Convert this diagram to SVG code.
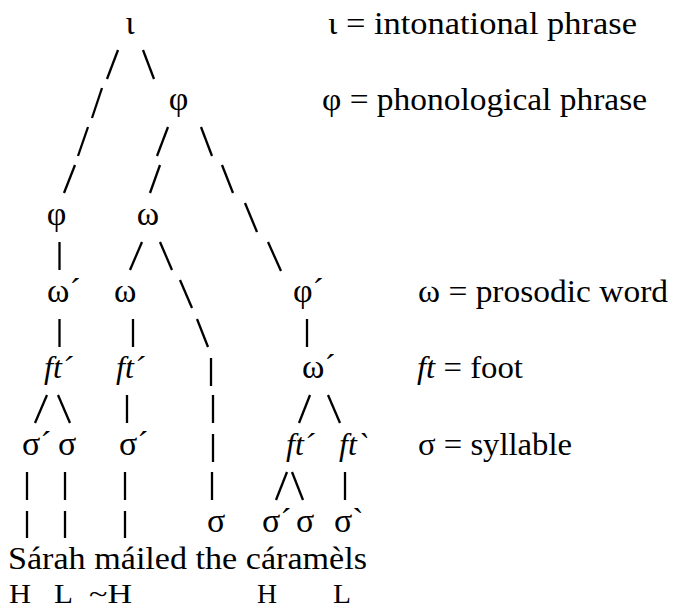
<svg xmlns="http://www.w3.org/2000/svg" width="673" height="609" viewBox="0 0 673 609">
<style>
text{font-family:"Liberation Serif","Times New Roman",serif;font-size:32px;fill:#000}
.g{font-size:34px}
.it{font-style:italic}
.t{font-size:28px}
.c line{stroke:#000;stroke-width:2.3;stroke-linecap:butt}
</style>
<rect width="673" height="609" fill="#fff"/>
<g class="c" id="connectors">
<line x1="118" y1="50" x2="107" y2="79"/><line x1="143" y1="50" x2="154" y2="79"/>
<line x1="102" y1="88" x2="92" y2="118"/>
<line x1="88" y1="127" x2="78" y2="156"/><line x1="168" y1="127" x2="157" y2="156"/><line x1="201" y1="127" x2="212" y2="156"/>
<line x1="75" y1="165" x2="64" y2="193"/><line x1="160" y1="165" x2="150" y2="193"/><line x1="222" y1="165" x2="233" y2="193"/>
<line x1="245" y1="203" x2="257" y2="232"/>
<line x1="59.5" y1="242" x2="59.5" y2="270"/><line x1="142" y1="242" x2="130" y2="270"/><line x1="160" y1="242" x2="172" y2="270"/><line x1="268" y1="242" x2="281" y2="271"/>
<line x1="180" y1="280" x2="192" y2="308"/>
<line x1="59.5" y1="319" x2="59.5" y2="347"/><line x1="133" y1="319" x2="133" y2="347"/><line x1="197" y1="319" x2="208" y2="347"/><line x1="307" y1="319" x2="307" y2="347"/>
<line x1="211" y1="358" x2="211" y2="386"/>
<line x1="47" y1="395" x2="35" y2="423"/><line x1="58" y1="395" x2="70" y2="423"/><line x1="127" y1="395" x2="127" y2="423"/><line x1="213" y1="395" x2="213" y2="423"/><line x1="310" y1="395" x2="299" y2="423"/><line x1="328" y1="395" x2="340" y2="423"/>
<line x1="213" y1="434" x2="213" y2="462"/>
<line x1="27" y1="472" x2="27" y2="500"/><line x1="65" y1="472" x2="65" y2="500"/><line x1="125" y1="472" x2="125" y2="500"/><line x1="212" y1="472" x2="212" y2="500"/><line x1="287" y1="472" x2="276" y2="500"/><line x1="292" y1="472" x2="303" y2="500"/><line x1="345" y1="472" x2="345" y2="500"/>
<line x1="27" y1="511" x2="27" y2="538"/><line x1="65" y1="511" x2="65" y2="538"/><line x1="125" y1="511" x2="125" y2="538"/>
</g>
<g id="iota"><text class="g" x="130" y="34" text-anchor="middle">ι</text></g>
<g id="phi-top"><text class="g" x="178.5" y="110" text-anchor="middle">φ</text></g>
<g id="phi-left"><text class="g" x="56.5" y="225" text-anchor="middle">φ</text></g>
<g id="omega-mid"><text class="g" x="148" y="225" text-anchor="middle">ω</text></g>
<g id="omega1"><text class="g" x="47" y="302">ω´</text></g>
<g id="omega2"><text class="g" x="114" y="302">ω</text></g>
<g id="phi-prime"><text class="g" x="293" y="302">φ´</text></g>
<g id="ft1"><text class="it" x="44" y="378">ft´</text></g>
<g id="ft2"><text class="it" x="116" y="378">ft´</text></g>
<g id="omega3"><text class="g" x="302" y="378">ω´</text></g>
<g id="sig1"><text class="g" x="22" y="455">σ´</text></g>
<g id="sig2"><text class="g" x="58" y="455">σ</text></g>
<g id="sig3"><text class="g" x="119" y="455">σ´</text></g>
<g id="ft3"><text class="it" x="286" y="455">ft´</text></g>
<g id="ft4"><text class="it" x="339" y="455">ft`</text></g>
<g id="sig4"><text class="g" x="207" y="532">σ</text></g>
<g id="sig5"><text class="g" x="262" y="532">σ´</text></g>
<g id="sig6"><text class="g" x="296" y="532">σ</text></g>
<g id="sig7"><text class="g" x="334" y="532">σ`</text></g>
<g id="sentence"><text x="8" y="569" textLength="359" lengthAdjust="spacingAndGlyphs">Sárah máiled the cáramèls</text></g>
<g id="tones">
<text class="t" x="9" y="602.5" textLength="22" lengthAdjust="spacingAndGlyphs">H</text><text class="t" x="54" y="602.5" textLength="19" lengthAdjust="spacingAndGlyphs">L</text><text class="t" x="89" y="602.5" textLength="43" lengthAdjust="spacingAndGlyphs">~H</text><text class="t" x="257" y="602.5" textLength="20" lengthAdjust="spacingAndGlyphs">H</text><text class="t" x="333" y="602.5" textLength="18" lengthAdjust="spacingAndGlyphs">L</text>
</g>
<g id="legend">
<text x="328" y="34" textLength="309" lengthAdjust="spacingAndGlyphs">ι = intonational phrase</text>
<text x="322" y="110" textLength="325" lengthAdjust="spacingAndGlyphs">φ = phonological phrase</text>
<text x="418" y="302" textLength="250" lengthAdjust="spacingAndGlyphs">ω = prosodic word</text>
<text x="417" y="378" textLength="106" lengthAdjust="spacingAndGlyphs"><tspan class="it">ft</tspan> = foot</text>
<text x="418" y="455" textLength="154" lengthAdjust="spacingAndGlyphs">σ = syllable</text>
</g>
</svg>
